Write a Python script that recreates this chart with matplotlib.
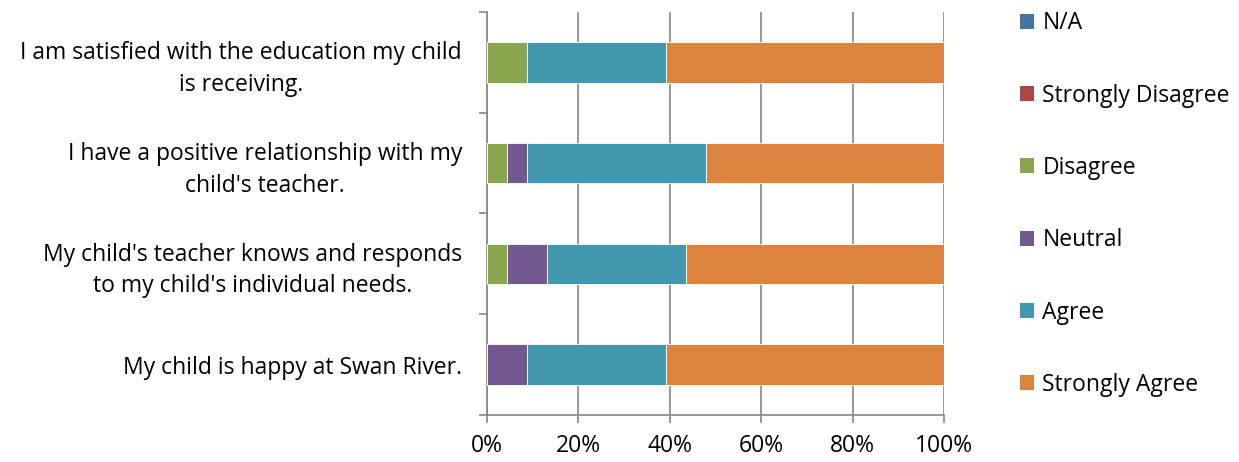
import matplotlib
matplotlib.use("Agg")
import matplotlib.pyplot as plt
from matplotlib.patches import Patch
import numpy as np

plt.rcParams['font.family'] = ['Open Sans', 'DejaVu Sans']

categories = [
    "My child is happy at Swan River.",
    "My child's teacher knows and responds\nto my child's individual needs.",
    "I have a positive relationship with my\nchild's teacher.",
    "I am satisfied with the education my child\nis receiving.",
]
series = ["N/A", "Strongly Disagree", "Disagree", "Neutral", "Agree", "Strongly Agree"]
colors = ["#4572A7", "#AA4643", "#89A54E", "#71588F", "#4198AF", "#DB843D"]

na = [0.0, 0.0, 0.0, 0.0]
strongly_disagree = [0.0, 0.0, 0.0, 0.0]
disagree = [0.0, 4.35, 4.35, 8.70]
neutral = [8.70, 8.70, 4.35, 0.0]
agree = [30.43, 30.43, 39.13, 30.43]
strongly_agree = [60.87, 56.52, 52.17, 60.87]
values = [na, strongly_disagree, disagree, neutral, agree, strongly_agree]
xticks = [0, 20, 40, 60, 80, 100]
xticklabels = ["0%", "20%", "40%", "60%", "80%", "100%"]

FS = 16.5

fig = plt.figure(figsize=(12.39, 4.62), dpi=100)
ax = fig.add_axes([487/1239, 1-415/462, (944-487)/1239, (415-12)/462])

y = np.arange(len(categories))
left = np.zeros(len(categories))
for name, vals, c in zip(series, values, colors):
    vals = np.array(vals)
    ax.barh(y, vals, left=left, height=0.4, color=c, edgecolor="white", linewidth=0.6, zorder=3)
    left += vals

ax.set_xlim(0, 100)
ax.set_ylim(-0.5, len(categories)-0.5)
ax.set_xticks(xticks)
ax.set_xticklabels(xticklabels, fontsize=FS)
ax.set_yticks(y)
ax.set_yticklabels(categories, fontsize=FS, ha="right", multialignment="center", linespacing=1.42)
ax.tick_params(axis="y", which="major", length=0, pad=18)
ax.set_yticks(np.arange(-0.5, len(categories)), minor=True)
ax.tick_params(axis="y", which="minor", length=6, color="#868686", width=1.2)
ax.tick_params(axis="x", length=6, color="#868686", width=1.2, pad=8)
ax.grid(axis="x", color="#868686", linewidth=1.2, zorder=0)
for s in ["top", "right"]:
    ax.spines[s].set_visible(False)
for s in ["left", "bottom"]:
    ax.spines[s].set_color("#868686")
    ax.spines[s].set_linewidth(1.2)

handles = [Patch(facecolor=c, edgecolor="none") for c in colors]
fig.legend(handles, series, loc="upper left", bbox_to_anchor=(1011/1239, 1-2/462),
           frameon=False, fontsize=FS, labelspacing=2.11, handlelength=0.62,
           handleheight=0.62, handletextpad=0.35, borderaxespad=0)

fig.savefig("out.png", dpi=100)
